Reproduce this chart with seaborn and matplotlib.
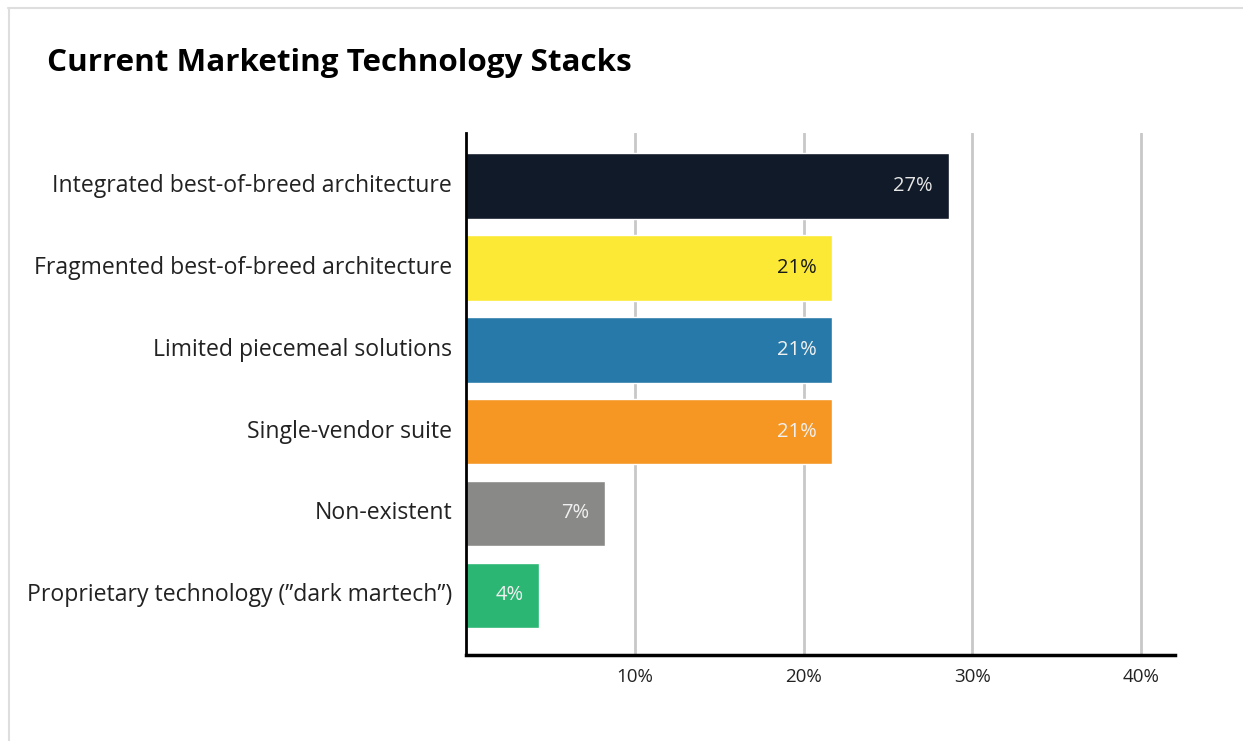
import matplotlib
matplotlib.use("Agg")
import matplotlib.pyplot as plt
import matplotlib.transforms as mtransforms
import seaborn as sns
import pandas as pd
from matplotlib.lines import Line2D

categories = [
    "Integrated best-of-breed architecture",
    "Fragmented best-of-breed architecture",
    "Limited piecemeal solutions",
    "Single-vendor suite",
    "Non-existent",
    "Proprietary technology (\u201ddark martech\u201d)",
]
# bar lengths as drawn in the picture (percent)
bar_values = [28.6, 21.7, 21.7, 21.7, 8.25, 4.35]
# labels printed on the bars
value_labels = ["27%", "21%", "21%", "21%", "7%", "4%"]
colors = ["#111a28", "#fbe935", "#2779a9", "#f79723", "#898988", "#2bb673"]
label_colors = ["#e6e6e6", "#1a1a1a", "#f0f0f0", "#f0f0f0", "#f0f0f0", "#f0f0f0"]
x_ticks = [10, 20, 30, 40]
x_tick_labels = ["10%", "20%", "30%", "40%"]
title = "Current Marketing Technology Stacks"

df = pd.DataFrame({"category": categories, "value": bar_values})

sns.set_style("white")
plt.rcParams["font.family"] = ["Open Sans", "DejaVu Sans"]

fig = plt.figure(figsize=(12.43, 7.41), dpi=100)
ax = fig.add_axes([466 / 1243, 1 - 655 / 741, (1175 - 466) / 1243, (655 - 133) / 741])

sns.barplot(data=df, y="category", x="value", hue="category", palette=colors,
            orient="h", width=0.8, legend=False, saturation=1, ax=ax, zorder=3)

ax.set_xlim(0, 42)
ax.set_ylim(5.73, -0.65)
ax.set_xticks(x_ticks)
ax.set_xticklabels(x_tick_labels, fontsize=13.5, color="#222222")
ax.tick_params(axis="x", length=0, pad=9)
ax.tick_params(axis="y", length=0, pad=10, labelsize=16.6, labelcolor="#222222")
ax.set_xlabel("")
ax.set_ylabel("")
ax.grid(axis="x", color="#c8c8c8", linewidth=2, zorder=0)
ax.grid(axis="y", visible=False)
for s in ["top", "right"]:
    ax.spines[s].set_visible(False)
ax.spines["left"].set_color("black")
ax.spines["left"].set_linewidth(2)
ax.spines["bottom"].set_color("black")
ax.spines["bottom"].set_linewidth(2.5)
ax.spines["left"].set_zorder(5)
ax.spines["bottom"].set_zorder(5)

# nudge category labels slightly upward as in the reference
offset = mtransforms.ScaledTranslation(0, 3 / 100, fig.dpi_scale_trans)
for lbl in ax.get_yticklabels():
    lbl.set_transform(lbl.get_transform() + offset)

for i, (v, lab, c) in enumerate(zip(bar_values, value_labels, label_colors)):
    ax.annotate(lab, xy=(v, i), xytext=(-16, 0), textcoords="offset pixels",
                ha="right", va="center", fontsize=14.5, color=c, zorder=6)

fig.text(47 / 1243, 1 - 63 / 741, title, fontsize=22.6, fontweight="bold",
         ha="left", va="center", color="black")

# thin border on top and left of the card
fig.add_artist(Line2D([8 / 1243, 1], [1 - 8 / 741, 1 - 8 / 741], color="#dedede", linewidth=1.5))
fig.add_artist(Line2D([9 / 1243, 9 / 1243], [0, 1 - 8 / 741], color="#dedede", linewidth=1.5))

fig.savefig("out.png", dpi=100)
